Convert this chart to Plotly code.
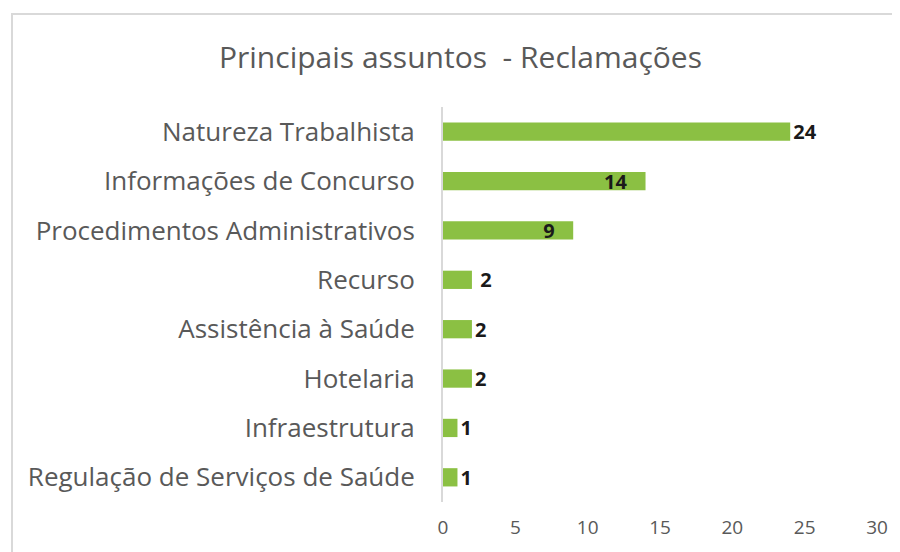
import plotly.graph_objects as go

categories = ["Natureza Trabalhista", "Informações de Concurso", "Procedimentos Administrativos",
              "Recurso", "Assistência à Saúde", "Hotelaria", "Infraestrutura",
              "Regulação de Serviços de Saúde"]
values = [24, 14, 9, 2, 2, 2, 1, 1]
label_pos = ["outside", "inside", "inside", "outside", "outside", "outside", "outside", "outside"]
tick_vals = [0, 5, 10, 15, 20, 25, 30]

W, H = 900, 552
OFF = 8  # page body margin
L, R, T, B = 443 - OFF, 31, 107 - OFF, 58

NB = "\u00a0"
labels = []
for v, p, c in zip(values, label_pos, categories):
    s = str(v)
    if p == "inside":
        s = s + NB * 3
    elif c == "Recurso":
        s = NB + s
    labels.append(s)

lab_font = dict(family="Open Sans", size=20, color="#1a1a1a", weight="bold")

fig = go.Figure(go.Bar(
    x=values, y=categories, orientation="h",
    marker=dict(color="#8bc043", line=dict(width=0)),
    width=0.37,
    text=labels,
    textposition=label_pos,
    textangle=0,
    constraintext="none",
    insidetextanchor="end",
    textfont=lab_font,
    insidetextfont=lab_font,
    outsidetextfont=lab_font,
    cliponaxis=False,
))

def px_x(p):
    return (p - OFF - L) / (W - L - R)

def px_y(p):
    return (H - B - (p - OFF)) / (H - T - B)

fig.update_layout(
    width=W, height=H,
    margin=dict(l=L, r=R, t=T, b=B, autoexpand=False),
    paper_bgcolor="white", plot_bgcolor="white",
    title=dict(text="Principais assuntos  - Reclamações", x=(460.5 - OFF) / W, xanchor="center",
               y=1 - (57 - OFF) / H, yanchor="middle",
               font=dict(family="Open Sans", size=30, color="#595959")),
    xaxis=dict(range=[0, 30], tickvals=tick_vals, showgrid=False, zeroline=False,
               showline=False, ticks="", ticklabelstandoff=12,
               tickfont=dict(family="Open Sans", size=19, color="#595959")),
    yaxis=dict(autorange="reversed", showgrid=False, zeroline=False, showline=True,
               linecolor="#d9d9d9", linewidth=2, ticks="", ticklabelstandoff=21,
               tickfont=dict(family="Open Sans", size=26, color="#595959")),
    showlegend=False,
    shapes=[dict(type="rect", xref="paper", yref="paper",
                 x0=px_x(12), x1=px_x(920), y0=px_y(14), y1=px_y(570),
                 line=dict(color="#d9d9d9", width=2), fillcolor="rgba(0,0,0,0)", layer="below")],
)

fig.write_html("out.html")
